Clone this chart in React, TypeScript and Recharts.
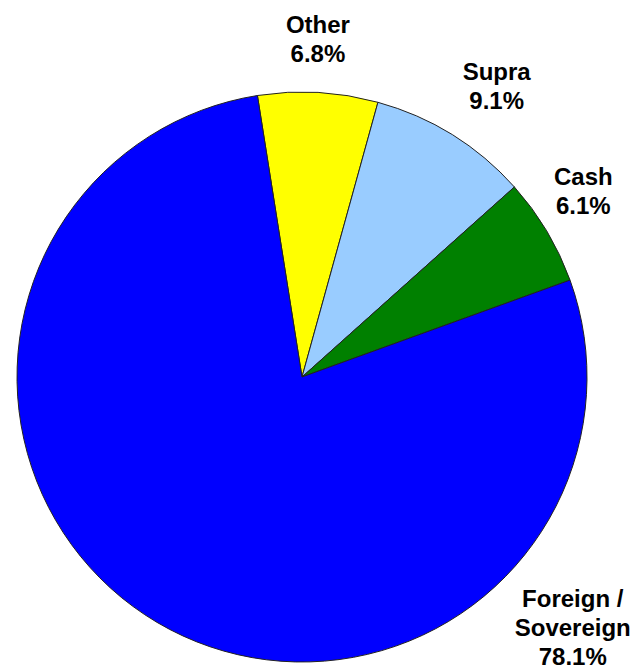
import { PieChart, Pie, Cell } from "recharts";

const names = ["Other", "Supra", "Cash", "Foreign / Sovereign"];
const shares = [6.8, 9.1, 6.1, 78.1];
const fills = ["#FFFF00", "#99CCFF", "#008000", "#0000FF"];

const data = names.map((name, i) => ({ name, value: shares[i] }));

// where each label block sits, as angle (deg) and distance from the centre
const labelSpot: Record<string, { angle: number; dist: number }> = {
  Other: { angle: 87.3, dist: 338 },
  Supra: { angle: 56.2, dist: 350 },
  Cash: { angle: 33.4, dist: 337 },
  "Foreign / Sovereign": { angle: -42.8, dist: 369 },
};

const RAD = Math.PI / 180;

function renderLabel(props: any) {
  const { cx, cy, index } = props;
  const name = names[index];
  const spot = labelSpot[name];
  const x = cx + spot.dist * Math.cos(spot.angle * RAD);
  const y = cy - spot.dist * Math.sin(spot.angle * RAD);
  const lines =
    name === "Foreign / Sovereign"
      ? ["Foreign /", "Sovereign", `${shares[index].toFixed(1)}%`]
      : [name, `${shares[index].toFixed(1)}%`];
  const step = 29;
  return (
    <text
      key={name}
      textAnchor="middle"
      fill="#000"
      fontFamily="'Liberation Sans', Arial, sans-serif"
      fontWeight="bold"
      fontSize={24}
    >
      {lines.map((l, i) => (
        <tspan
          key={i}
          x={x}
          y={y + (i - (lines.length - 1) / 2) * step}
          dominantBaseline="central"
        >
          {l}
        </tspan>
      ))}
    </text>
  );
}

export default function App() {
  return (
    <div style={{ position: "absolute", left: 0, top: 0, width: 637, height: 668, background: "#fff" }}>
      <PieChart width={637} height={668} margin={{ top: 0, right: 0, bottom: 0, left: 0 }}>
        <Pie
          data={data}
          dataKey="value"
          cx={302}
          cy={377}
          outerRadius={285}
          startAngle={99}
          endAngle={-261}
          stroke="#222"
          strokeWidth={1}
          label={renderLabel}
          labelLine={false}
          isAnimationActive={false}
        >
          {data.map((d, i) => (
            <Cell key={d.name} fill={fills[i]} />
          ))}
        </Pie>
      </PieChart>
    </div>
  );
}
